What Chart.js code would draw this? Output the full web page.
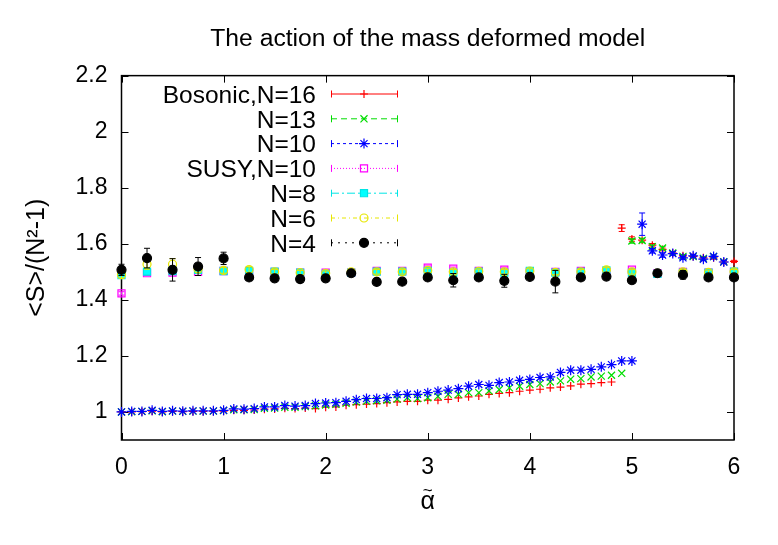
<!DOCTYPE html>
<html>
<head>
<meta charset="utf-8">
<script src="https://cdn.jsdelivr.net/npm/chart.js@4.4.1/dist/chart.umd.min.js"></script>
<style>
  html, body { margin: 0; padding: 0; background: #fff; }
</style>
</head>
<body>
<canvas id="chart" width="778" height="545"></canvas>
<script>
// x positions
const alphaCoarse = [0, 0.25, 0.5, 0.75, 1, 1.25, 1.5, 1.75, 2, 2.25, 2.5, 2.75, 3,
  3.25, 3.5, 3.75, 4, 4.25, 4.5, 4.75, 5, 5.25, 5.5, 5.75, 6];
const alphaFine = [0, 0.1, 0.2, 0.3, 0.4, 0.5, 0.6, 0.7, 0.8, 0.9,
  1, 1.1, 1.2, 1.3, 1.4, 1.5, 1.6, 1.7, 1.8, 1.9,
  2, 2.1, 2.2, 2.3, 2.4, 2.5, 2.6, 2.7, 2.8, 2.9,
  3, 3.1, 3.2, 3.3, 3.4, 3.5, 3.6, 3.7, 3.8, 3.9,
  4, 4.1, 4.2, 4.3, 4.4, 4.5, 4.6, 4.7, 4.8, 4.9,
  5, 5.1, 5.2, 5.3, 5.4, 5.5, 5.6, 5.7, 5.8, 5.9, 6];

// bosonic runs (lower branch, then the jump to the upper branch)
const bos16 = [1.0, 1.0, 1.001, 1.003, 1.0, 1.002, 1.001, 1.002, 1.002, 1.002,
  1.003, 1.006, 1.006, 1.007, 1.01, 1.011, 1.013, 1.012, 1.014, 1.012,
  1.017, 1.018, 1.024, 1.026, 1.028, 1.03, 1.033, 1.036, 1.038, 1.038,
  1.042, 1.042, 1.045, 1.05, 1.054, 1.057, 1.063, 1.066, 1.069, 1.074,
  1.078, 1.081, 1.086, 1.089, 1.093, 1.099, 1.101, 1.105, 1.107,
  1.656, 1.617, 1.613, 1.595, 1.58, 1.567, 1.557, 1.555, 1.55, 1.55, 1.535, 1.537];
const bos13 = [1.0, 1.001, 1.002, 1.004, 1.001, 1.003, 1.002, 1.003, 1.003, 1.003,
  1.005, 1.008, 1.008, 1.009, 1.013, 1.014, 1.017, 1.017, 1.019, 1.022,
  1.025, 1.027, 1.031, 1.035, 1.038, 1.04, 1.042, 1.046, 1.051, 1.048,
  1.051, 1.056, 1.063, 1.063, 1.069, 1.069, 1.075, 1.08, 1.086, 1.092,
  1.098, 1.101, 1.107, 1.111, 1.117, 1.119, 1.125, 1.128, 1.131, 1.138,
  1.61, 1.612, 1.59, 1.585, 1.567, 1.555, 1.555, 1.548, 1.555, 1.536, null];
const bos10 = [1.0, 1.002, 1.002, 1.006, 1.002, 1.004, 1.003, 1.004, 1.004, 1.004,
  1.006, 1.011, 1.01, 1.012, 1.018, 1.018, 1.023, 1.021, 1.023, 1.03,
  1.032, 1.033, 1.038, 1.044, 1.048, 1.048, 1.051, 1.062, 1.063, 1.063,
  1.069, 1.074, 1.078, 1.083, 1.092, 1.098, 1.095, 1.105, 1.107, 1.113,
  1.116, 1.123, 1.125, 1.141, 1.149, 1.149, 1.152, 1.161, 1.169, 1.182,
  1.182, 1.67, 1.575, 1.56, 1.565, 1.55, 1.557, 1.545, 1.555, 1.535, null];
// error bars on the upper branch (alpha 4.9 .. 6.0)
const err16High = [0.012, 0.008, 0.006, 0.006, 0.005, 0.005, 0.005, 0.005, 0.005, 0.005, 0.005, 0.004];
const err13High = [0, 0.008, 0.008, 0.006, 0.006, 0.005, 0.005, 0.005, 0.005, 0.005, 0.005, 0];
const err10High = [0, 0, 0.04, 0.008, 0.008, 0.006, 0.005, 0.005, 0.005, 0.005, 0.005, 0];

// runs on the coarse grid
const susy10 = [1.423, 1.495, 1.497, 1.5, 1.503, 1.5, 1.5, 1.497, 1.497, 1.497, 1.503, 1.503, 1.515,
  1.511, 1.503, 1.508, 1.5, 1.5, 1.503, 1.5, 1.508, 1.495, 1.5, 1.497, 1.5];
const n8 = [1.488, 1.501, 1.503, 1.507, 1.503, 1.503, 1.501, 1.497, 1.493, 1.497, 1.501, 1.501, 1.503,
  1.497, 1.501, 1.497, 1.503, 1.497, 1.5, 1.505, 1.497, 1.493, 1.497, 1.497, 1.501];
const n6 = [1.49, 1.527, 1.527, 1.51, 1.505, 1.508, 1.5, 1.497, 1.495, 1.5, 1.5, 1.5, 1.505,
  1.5, 1.502, 1.5, 1.503, 1.498, 1.5, 1.507, 1.5, 1.495, 1.5, 1.498, 1.5];
const n4 = [1.507, 1.549, 1.507, 1.519, 1.548, 1.48, 1.477, 1.474, 1.477, 1.495, 1.464, 1.465, 1.48,
  1.47, 1.48, 1.468, 1.482, 1.465, 1.48, 1.483, 1.47, 1.495, 1.489, 1.48, 1.48];
const errSusy = [0.006, 0.008, 0.008, 0.006, 0.006, 0.006, 0.005, 0.006, 0.006, 0.005, 0.006, 0.005, 0.006,
  0.006, 0.005, 0.006, 0.005, 0.006, 0.005, 0.006, 0.005, 0.006, 0.005, 0.005, 0.005];
const errN8 = [0.008, 0.01, 0.01, 0.008, 0.006, 0.006, 0.006, 0.006, 0.006, 0.006, 0.006, 0.006, 0.006,
  0.006, 0.006, 0.006, 0.006, 0.006, 0.006, 0.006, 0.006, 0.006, 0.006, 0.006, 0.006];
const errN6 = [0.012, 0.018, 0.02, 0.012, 0.01, 0.01, 0.008, 0.008, 0.008, 0.008, 0.008, 0.008, 0.008,
  0.008, 0.008, 0.008, 0.008, 0.008, 0.008, 0.008, 0.008, 0.008, 0.008, 0.008, 0.008];
const errN4 = [0.02, 0.035, 0.04, 0.032, 0.022, 0.01, 0.008, 0.012, 0.01, 0.008, 0.012, 0.008, 0.01,
  0.024, 0.01, 0.023, 0.01, 0.04, 0.01, 0.008, 0.01, 0.008, 0.015, 0.01, 0.01];

const xTicks = [0, 1, 2, 3, 4, 5, 6];
const yTicks = [1, 1.2, 1.4, 1.6, 1.8, 2, 2.2];

const FONT = "'Liberation Sans', Arial, Helvetica, sans-serif";
const lowZeros = new Array(49).fill(0);

function pts(xs, ys) {
  const out = [];
  xs.forEach(function (x, i) {
    if (ys[i] !== null && ys[i] !== undefined) out.push({ x: x, y: ys[i] });
  });
  return out;
}
function errs(ys, e) {
  const out = [];
  ys.forEach(function (y, i) {
    if (y !== null && y !== undefined) out.push(e[i]);
  });
  return out;
}

const datasets = [
  { label: "Bosonic,N=16", data: pts(alphaFine, bos16), errs: errs(bos16, lowZeros.concat(err16High)),
    pointStyle: "cross", pointRadius: 4, color: "#ff0000", fill: "#ff0000", dash: [] },
  { label: "N=13", data: pts(alphaFine, bos13), errs: errs(bos13, lowZeros.concat(err13High)),
    pointStyle: "crossRot", pointRadius: 5, color: "#00dd00", fill: "#00dd00", dash: [6, 4] },
  { label: "N=10", data: pts(alphaFine, bos10), errs: errs(bos10, lowZeros.concat(err10High)),
    pointStyle: "star", pointRadius: 5, color: "#0000ff", fill: "#0000ff", dash: [3, 3] },
  { label: "SUSY,N=10", data: pts(alphaCoarse, susy10), errs: errSusy,
    pointStyle: "rect", pointRadius: 5, color: "#ff00ff", fill: "rgba(0,0,0,0)", dash: [1, 2] },
  { label: "N=8", data: pts(alphaCoarse, n8), errs: errN8,
    pointStyle: "rect", pointRadius: 5, color: "#00e5e5", fill: "#00ffff", dash: [8, 3, 2, 3] },
  { label: "N=6", data: pts(alphaCoarse, n6), errs: errN6,
    pointStyle: "circle", pointRadius: 4, color: "#e6e600", fill: "rgba(0,0,0,0)", dash: [4, 3, 1, 3] },
  { label: "N=4", data: pts(alphaCoarse, n4), errs: errN4,
    pointStyle: "circle", pointRadius: 4.5, color: "#000000", fill: "#000000", dash: [2, 5] }
];
datasets.forEach(function (d, i) {
  d.showLine = false;
  d.borderColor = d.color;
  d.backgroundColor = d.fill;
  d.pointBorderWidth = 1.2;
  d.pointHoverRadius = d.pointRadius;
  d.order = datasets.length - 1 - i;
  d.clip = false;
});

// gnuplot-like frame with inward ticks on all four sides
const framePlugin = {
  id: "frame",
  beforeDatasetsDraw(chart) {
    const { ctx, chartArea: a, scales } = chart;
    ctx.save();
    ctx.strokeStyle = "#000";
    ctx.lineWidth = 1;
    xTicks.forEach(function (v) {
      const x = Math.round(scales.x.getPixelForValue(v)) + 0.5;
      ctx.beginPath();
      ctx.moveTo(x, a.bottom); ctx.lineTo(x, a.bottom - 7);
      ctx.moveTo(x, a.top); ctx.lineTo(x, a.top + 7);
      ctx.stroke();
    });
    yTicks.forEach(function (v) {
      const y = Math.round(scales.y.getPixelForValue(v)) + 0.5;
      ctx.beginPath();
      ctx.moveTo(a.left, y); ctx.lineTo(a.left + 7, y);
      ctx.moveTo(a.right, y); ctx.lineTo(a.right - 7, y);
      ctx.stroke();
    });
    ctx.lineWidth = 1.5;
    ctx.strokeRect(a.left, a.top, a.right - a.left, a.bottom - a.top);
    ctx.restore();
  },
  afterDraw(chart) {
    // tilde over the alpha of the x-axis title
    const ctx = chart.ctx;
    const a = chart.chartArea;
    ctx.save();
    ctx.fillStyle = "#000";
    ctx.font = "17px " + FONT;
    ctx.textAlign = "center";
    ctx.textBaseline = "middle";
    ctx.fillText("~", (a.left + a.right) / 2, 491);
    ctx.restore();
  }
};

// vertical error bars, drawn under each dataset's markers
const errorBarPlugin = {
  id: "errorBars",
  beforeDatasetDraw(chart, args) {
    const ds = chart.data.datasets[args.index];
    if (!ds.errs) return;
    const { ctx, scales } = chart;
    ctx.save();
    ctx.strokeStyle = ds.color;
    ctx.lineWidth = 1;
    ds.data.forEach(function (p, i) {
      const e = ds.errs[i];
      if (!e) return;
      const x = scales.x.getPixelForValue(p.x);
      const y1 = scales.y.getPixelForValue(p.y + e);
      const y2 = scales.y.getPixelForValue(p.y - e);
      ctx.beginPath();
      ctx.moveTo(x, y1); ctx.lineTo(x, y2);
      ctx.moveTo(x - 3, y1); ctx.lineTo(x + 3, y1);
      ctx.moveTo(x - 3, y2); ctx.lineTo(x + 3, y2);
      ctx.stroke();
    });
    ctx.restore();
  }
};

// key in the upper left, text right-aligned, sample line with caps and marker
const keyPlugin = {
  id: "key",
  afterDraw(chart) {
    const ctx = chart.ctx;
    const textRight = 316, x0 = 331, x1 = 397, xm = 364, y0 = 93.5, dy = 24.8;
    ctx.save();
    chart.data.datasets.forEach(function (ds, i) {
      const y = y0 + i * dy;
      ctx.fillStyle = "#000";
      ctx.font = "24.5px " + FONT;
      ctx.textAlign = "right";
      ctx.textBaseline = "middle";
      ctx.fillText(ds.label, textRight, y + 2.5);
      ctx.strokeStyle = ds.color;
      ctx.lineWidth = 1;
      ctx.setLineDash(ds.dash);
      ctx.beginPath();
      ctx.moveTo(x0, y + 0.5); ctx.lineTo(x1, y + 0.5);
      ctx.stroke();
      ctx.setLineDash([]);
      ctx.beginPath();
      ctx.moveTo(x0 + 0.5, y - 3); ctx.lineTo(x0 + 0.5, y + 4);
      ctx.moveTo(x1 + 0.5, y - 3); ctx.lineTo(x1 + 0.5, y + 4);
      ctx.stroke();
      ctx.fillStyle = ds.fill;
      ctx.lineWidth = 1.2;
      Chart.helpers.drawPoint(ctx, { pointStyle: ds.pointStyle, radius: ds.pointRadius, rotation: 0, borderWidth: 1.2 }, xm, y + 0.5);
    });
    ctx.restore();
  }
};

const tickFont = { family: FONT, size: 23 };

new Chart(document.getElementById("chart"), {
  type: "scatter",
  data: { datasets: datasets },
  options: {
    responsive: false,
    animation: false,
    layout: { padding: { left: 0, right: 44, top: 0, bottom: 0 } },
    plugins: {
      legend: { display: false },
      tooltip: { enabled: false },
      title: {
        display: true,
        fullSize: false,
        text: "The action of the mass deformed model",
        color: "#000",
        font: { family: FONT, size: 24.7, weight: "normal" },
        padding: { top: 24, bottom: 22 }
      }
    },
    scales: {
      x: {
        type: "linear",
        min: 0,
        max: 6,
        afterBuildTicks: function (s) { s.ticks = xTicks.map(function (v) { return { value: v }; }); },
        afterFit: function (s) { s.height = 105; },
        grid: { display: false, drawTicks: false },
        border: { display: false },
        ticks: { color: "#000", font: tickFont, padding: 14, maxRotation: 0 },
        title: { display: true, text: "α", color: "#000", font: { family: FONT, size: 25 }, padding: { top: 0, bottom: 28 } }
      },
      y: {
        type: "linear",
        min: 0.9,
        max: 2.2,
        afterBuildTicks: function (s) { s.ticks = yTicks.map(function (v) { return { value: v }; }); },
        afterFit: function (s) { s.width = 121.5; },
        grid: { display: false, drawTicks: false },
        border: { display: false },
        ticks: {
          color: "#000",
          font: tickFont,
          padding: 14,
          callback: function (v) { return String(+v.toFixed(1)); }
        },
        title: { display: true, text: "<S>/(N²-1)", color: "#000", font: { family: FONT, size: 25 }, padding: { top: 22, bottom: 0 } }
      }
    }
  },
  plugins: [framePlugin, errorBarPlugin, keyPlugin]
});
</script>
</body>
</html>
